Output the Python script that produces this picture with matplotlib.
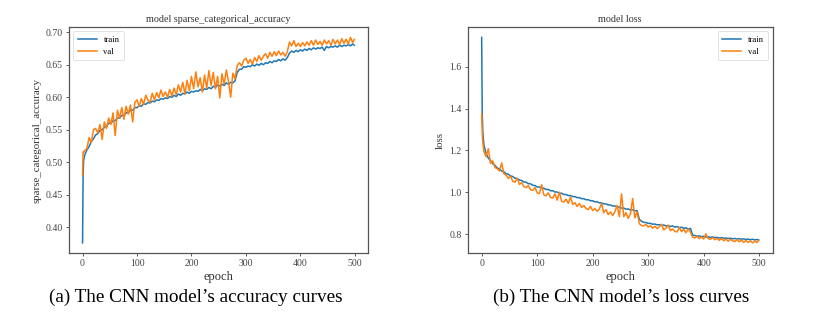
import matplotlib
matplotlib.use("Agg")
import matplotlib.pyplot as plt

plt.rcParams['font.family'] = ['Liberation Serif', 'DejaVu Serif']

EPOCHS = [0, 1, 2] + list(range(4, 500, 4)) + [499]

train_acc = [
    0.376, 0.480, 0.503, 0.511, 0.519, 0.524, 0.532, 0.536, 0.542, 0.544,
    0.549, 0.550, 0.554, 0.555, 0.560, 0.560, 0.564, 0.564, 0.568, 0.568,
    0.572, 0.572, 0.576, 0.576, 0.580, 0.580, 0.584, 0.584, 0.587, 0.586,
    0.590, 0.589, 0.592, 0.591, 0.594, 0.593, 0.596, 0.595, 0.598, 0.597,
    0.599, 0.598, 0.601, 0.600, 0.603, 0.601, 0.605, 0.603, 0.606, 0.605,
    0.608, 0.606, 0.609, 0.608, 0.610, 0.609, 0.612, 0.610, 0.613, 0.612,
    0.615, 0.613, 0.617, 0.615, 0.619, 0.617, 0.620, 0.618, 0.622, 0.620,
    0.623, 0.622, 0.625, 0.638, 0.643, 0.643, 0.647, 0.646, 0.648, 0.647,
    0.650, 0.648, 0.651, 0.649, 0.652, 0.650, 0.653, 0.652, 0.655, 0.653,
    0.656, 0.655, 0.658, 0.656, 0.659, 0.657, 0.661, 0.668, 0.671, 0.669,
    0.672, 0.670, 0.673, 0.671, 0.674, 0.672, 0.675, 0.673, 0.676, 0.674,
    0.676, 0.675, 0.677, 0.672, 0.678, 0.676, 0.678, 0.677, 0.679, 0.677,
    0.680, 0.678, 0.680, 0.679, 0.681, 0.679, 0.682, 0.680,
]

val_acc = [
    0.480, 0.516, 0.515, 0.518, 0.521, 0.538, 0.530, 0.550, 0.552, 0.545,
    0.558, 0.535, 0.562, 0.552, 0.568, 0.558, 0.576, 0.541, 0.580, 0.568,
    0.584, 0.566, 0.586, 0.574, 0.588, 0.562, 0.592, 0.596, 0.586, 0.598,
    0.589, 0.603, 0.596, 0.592, 0.606, 0.596, 0.607, 0.599, 0.611, 0.601,
    0.608, 0.600, 0.612, 0.602, 0.614, 0.604, 0.619, 0.608, 0.623, 0.605,
    0.626, 0.610, 0.632, 0.613, 0.639, 0.616, 0.630, 0.608, 0.634, 0.614,
    0.641, 0.618, 0.638, 0.613, 0.632, 0.599, 0.636, 0.620, 0.642, 0.624,
    0.600, 0.637, 0.628, 0.649, 0.653, 0.648, 0.657, 0.660, 0.652, 0.658,
    0.651, 0.661, 0.655, 0.664, 0.657, 0.663, 0.667, 0.660, 0.669, 0.663,
    0.670, 0.664, 0.671, 0.665, 0.669, 0.663, 0.670, 0.685, 0.679, 0.687,
    0.678, 0.683, 0.678, 0.684, 0.679, 0.685, 0.680, 0.687, 0.680, 0.688,
    0.681, 0.686, 0.680, 0.688, 0.682, 0.687, 0.680, 0.689, 0.682, 0.688,
    0.681, 0.690, 0.683, 0.689, 0.682, 0.692, 0.684, 0.689,
]

train_loss = [
    1.740, 1.380, 1.290, 1.225, 1.185, 1.163, 1.151, 1.136, 1.128, 1.116,
    1.111, 1.101, 1.098, 1.088, 1.086, 1.078, 1.075, 1.067, 1.065, 1.058,
    1.056, 1.049, 1.048, 1.041, 1.040, 1.033, 1.032, 1.025, 1.025, 1.019,
    1.019, 1.013, 1.013, 1.007, 1.007, 1.001, 1.001, 0.995, 0.995, 0.989,
    0.989, 0.984, 0.984, 0.979, 0.979, 0.974, 0.974, 0.969, 0.969, 0.964,
    0.964, 0.959, 0.959, 0.954, 0.954, 0.949, 0.949, 0.944, 0.944, 0.939,
    0.939, 0.934, 0.934, 0.929, 0.929, 0.924, 0.924, 0.919, 0.920, 0.915,
    0.916, 0.911, 0.912, 0.870, 0.861, 0.856, 0.855, 0.851, 0.851, 0.847,
    0.848, 0.844, 0.845, 0.841, 0.843, 0.839, 0.841, 0.836, 0.839, 0.833,
    0.836, 0.830, 0.833, 0.827, 0.830, 0.824, 0.827, 0.795, 0.793, 0.790,
    0.791, 0.788, 0.789, 0.786, 0.787, 0.784, 0.786, 0.783, 0.784, 0.781,
    0.783, 0.780, 0.781, 0.779, 0.780, 0.777, 0.779, 0.776, 0.778, 0.775,
    0.777, 0.774, 0.776, 0.773, 0.775, 0.772, 0.774, 0.772,
]

val_loss = [
    1.375, 1.290, 1.240, 1.195, 1.170, 1.208, 1.138, 1.150, 1.118, 1.112,
    1.102, 1.140, 1.088, 1.082, 1.066, 1.077, 1.052, 1.048, 1.067, 1.037,
    1.046, 1.027, 1.022, 1.032, 1.012, 1.008, 1.022, 0.997, 0.993, 1.036,
    0.987, 0.983, 0.997, 0.975, 0.972, 0.992, 0.962, 1.000, 0.957, 0.953,
    0.967, 0.947, 0.977, 0.942, 0.950, 0.932, 0.946, 0.927, 0.937, 0.922,
    0.917, 0.932, 0.912, 0.922, 0.909, 0.920, 0.946, 0.902, 0.917, 0.893,
    0.906, 0.888, 0.907, 0.937, 0.883, 0.992, 0.883, 0.902, 0.875, 0.897,
    0.970, 0.877, 0.906, 0.850, 0.840, 0.839, 0.846, 0.833, 0.840, 0.828,
    0.837, 0.826, 0.834, 0.847, 0.820, 0.828, 0.842, 0.816, 0.824, 0.813,
    0.810, 0.832, 0.812, 0.822, 0.806, 0.824, 0.810, 0.785, 0.781, 0.789,
    0.778, 0.786, 0.776, 0.801, 0.778, 0.775, 0.783, 0.773, 0.779, 0.770,
    0.779, 0.768, 0.776, 0.766, 0.775, 0.768, 0.764, 0.773, 0.763, 0.771,
    0.760, 0.769, 0.760, 0.767, 0.758, 0.766, 0.760, 0.769,
]

SERIES_LABELS = ['train', 'val']
TITLES = ['model sparse_categorical_accuracy', 'model loss']
YLABELS = ['sparse_categorical_accuracy', 'loss']
CAPTIONS = ['(a) The CNN model\u2019s accuracy curves', '(b) The CNN model\u2019s loss curves']

fig = plt.figure(figsize=(8.28, 3.27), dpi=100)
ax1 = fig.add_axes([0.0833, 0.226, 0.361, 0.691])
ax2 = fig.add_axes([0.565, 0.226, 0.368, 0.691])

blue = '#1f77b4'
orange = '#ff7f0e'

ax1.plot(EPOCHS, train_acc, color=blue, lw=1.1, label=SERIES_LABELS[0])
ax1.plot(EPOCHS, val_acc, color=orange, lw=1.1, label=SERIES_LABELS[1])
ax2.plot(EPOCHS, train_loss, color=blue, lw=1.1, label=SERIES_LABELS[0])
ax2.plot(EPOCHS, val_loss, color=orange, lw=1.1, label=SERIES_LABELS[1])

for ax, title, ylab, loc in [(ax1, TITLES[0], YLABELS[0], 'upper left'),
                             (ax2, TITLES[1], YLABELS[1], 'upper right')]:
    ax.set_title(title, fontsize=7.3, pad=4, color='#333333')
    ax.set_xlabel('epoch', fontsize=9, labelpad=2, color='#333333')
    ax.set_ylabel(ylab, fontsize=7.8, labelpad=3, color='#333333')
    ax.tick_params(labelsize=7, length=2.5, width=0.6, pad=2, colors='#444444')
    for s in ax.spines.values():
        s.set_color('#555555')
        s.set_linewidth(0.9)
    leg = ax.legend(loc=loc, fontsize=6.2, handlelength=2.2, borderpad=0.5,
                    labelspacing=0.5, framealpha=0.8)
    leg.get_frame().set_linewidth(0.5)
    ax.set_xticks([0, 100, 200, 300, 400, 500])

ax1.set_yticks([0.40, 0.45, 0.50, 0.55, 0.60, 0.65, 0.70])
ax1.set_yticklabels(['0.40', '0.45', '0.50', '0.55', '0.60', '0.65', '0.70'])
ax2.set_yticks([0.8, 1.0, 1.2, 1.4, 1.6])

fig.text(0.236, 0.092, CAPTIONS[0], ha='center', va='center', fontsize=13.8)
fig.text(0.750, 0.092, CAPTIONS[1], ha='center', va='center', fontsize=13.8)

fig.savefig('out.png', dpi=100, facecolor='white')
